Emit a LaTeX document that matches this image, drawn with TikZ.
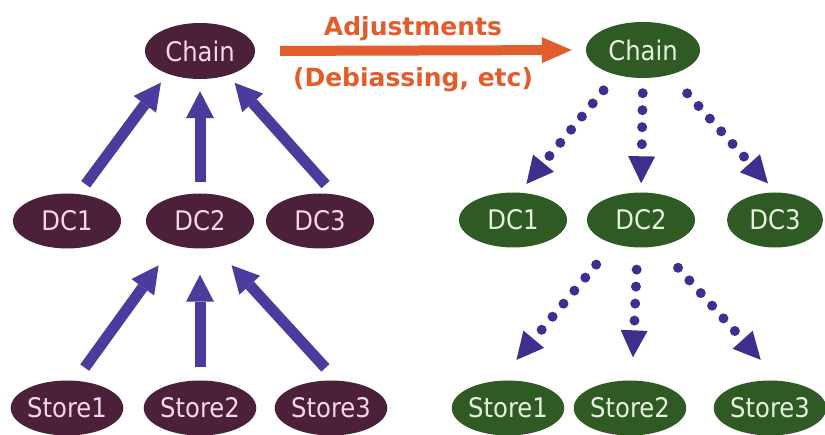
\documentclass[tikz,border=0pt]{standalone}
\usepackage{fontspec}
\setsansfont{DejaVu Sans Condensed}
\newfontfamily\lblfont{DejaVu Sans}
\usetikzlibrary{arrows.meta,shapes.geometric}
\definecolor{pplum}{HTML}{4C2039}
\definecolor{pgreen}{HTML}{2F5A24}
\definecolor{ppink}{HTML}{F3D6EC}
\definecolor{pmint}{HTML}{E6F0DF}
\definecolor{parrow}{HTML}{4B3B9D}
\definecolor{pdots}{HTML}{3E2E8E}
\definecolor{porange}{HTML}{E35C2C}
\tikzset{
  pnode/.style={ellipse, fill=pplum, text=ppink, minimum width=108pt,
                minimum height=55pt, inner sep=0pt,
                font=\sffamily\fontsize{27}{29}\selectfont},
  gnode/.style={pnode, fill=pgreen, text=pmint},
  uparr/.style={-{Triangle[length=27pt,width=28pt,line width=0pt]},
                parrow, line width=11pt},
  dotarr/.style={-{Triangle[length=27pt,width=27pt,line width=0pt]},
                 pdots, line width=10pt, line cap=round,
                 dash pattern=on 0pt off 17pt},
  adjarr/.style={-{Triangle[length=30pt,width=26pt,line width=0pt]},
                 porange, line width=10pt},
  adjlbl/.style={porange, inner sep=0pt,
                 font=\lblfont\bfseries\fontsize{25}{27}\selectfont},
}

\begin{document}
\begin{tikzpicture}[x=1pt,y=-1pt]
  \useasboundingbox (0,0) rectangle (825,435);

  % ---- before: purple tree ----
  \node[pnode, minimum width=110pt, minimum height=56pt] (lchain) at (200,51) {Chain};
  \node[pnode] (ldc1) at (67,221) {DC1};
  \node[pnode] (ldc2) at (200,221) {DC2};
  \node[pnode] (ldc3) at (320,221) {DC3};
  \node[pnode] (lst1) at (67,408) {Store1};
  \node[pnode] (lst2) at (200,408) {Store2};
  \node[pnode] (lst3) at (331,408) {Store3};

  \draw[uparr, shorten <=12pt, shorten >=11pt] (ldc1.67) -- (lchain.215);
  \draw[uparr, shorten <=11pt, shorten >=12pt] (ldc2.north) -- (lchain.south);
  \draw[uparr, shorten <=13pt, shorten >=10pt] (ldc3.62) -- (lchain.319);
  \draw[uparr, shorten <=16pt, shorten >=25pt] (lst1.73) -- (ldc2.222);
  \draw[uparr, shorten <=13pt, shorten >=26pt] (lst2.north) -- (ldc2.south);
  \draw[uparr, shorten <=17pt, shorten >=24pt] (lst3.78) -- (ldc2.300);

  % ---- adjustment ----
  \node[adjlbl] (adjtop) at (413,29) {Adjustments};
  \node[adjlbl] (adjbot) at (413,80) {(Debiassing, etc)};

  % ---- after: green tree ----
  \node[gnode, minimum width=114pt, minimum height=56pt] (rchain) at (643,50) {Chain};
  \node[gnode] (rdc1) at (513,220) {DC1};
  \node[gnode] (rdc2) at (641,220) {DC2};
  \node[gnode, minimum width=96pt] (rdc3) at (775,220) {DC3};
  \node[gnode] (rst1) at (508,408) {Store1};
  \node[gnode] (rst2) at (630,408) {Store2};
  \node[gnode, minimum width=104pt] (rst3) at (770,408) {Store3};

  \draw[adjarr, shorten <=25pt, shorten >=14pt] (lchain.east) -- (rchain.west);

  \draw[dotarr, shorten <=20pt, shorten >=11pt] (rchain.223) -- (rdc1.77);
  \draw[dotarr, shorten <=15pt, shorten >=9pt] (rchain.south) -- (rdc2.north);
  \draw[dotarr, shorten <=25pt, shorten >=12pt] (rchain.318) -- (rdc3.88);
  \draw[dotarr, shorten <=27pt, shorten >=27pt] (rdc2.221) -- (rst1.108);
  \draw[dotarr, shorten <=22pt, shorten >=23pt] (rdc2.263) -- (rst2.86);
  \draw[dotarr, shorten <=29pt, shorten >=28pt] (rdc2.304) -- (rst3.71);

\end{tikzpicture}
\end{document}
